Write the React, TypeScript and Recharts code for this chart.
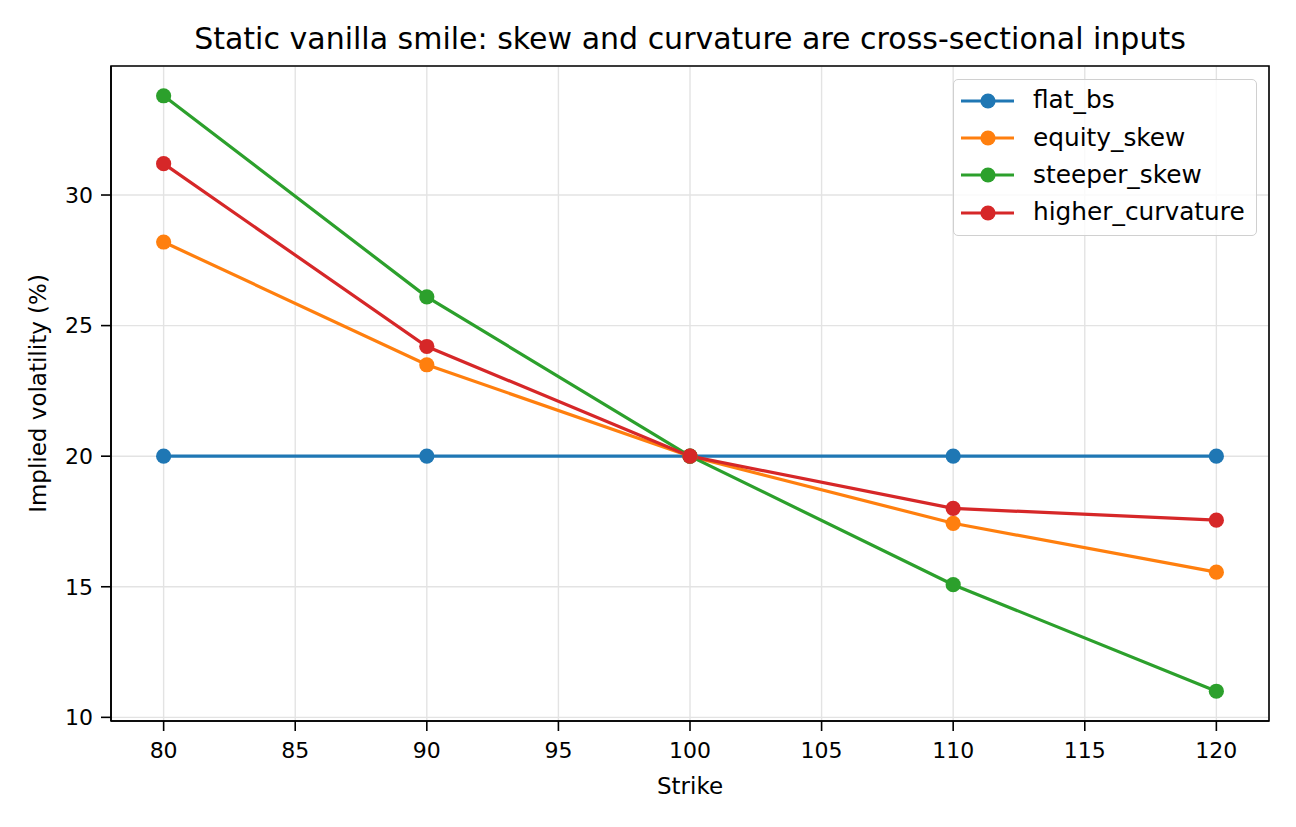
import { LineChart, Line, XAxis, YAxis, CartesianGrid, ReferenceArea, Label } from "recharts"

const strikes = [80, 90, 100, 110, 120]
const flatBs = [20, 20, 20, 20, 20]
const equitySkew = [28.2, 23.5, 20, 17.43, 15.56]
const steeperSkew = [33.8, 26.1, 20, 15.08, 11.0]
const higherCurvature = [31.2, 24.2, 20, 18.0, 17.55]

const xTicks = [80, 85, 90, 95, 100, 105, 110, 115, 120]
const yTicks = [10, 15, 20, 25, 30]

const series = [
  { key: "flat_bs", values: flatBs, color: "#1f77b4" },
  { key: "equity_skew", values: equitySkew, color: "#ff7f0e" },
  { key: "steeper_skew", values: steeperSkew, color: "#2ca02c" },
  { key: "higher_curvature", values: higherCurvature, color: "#d62728" },
]

const data = strikes.map((k, i) => {
  const row: Record<string, number> = { strike: k }
  series.forEach((s) => {
    row[s.key] = s.values[i]
  })
  return row
})

const FONT = "'DejaVu Sans', sans-serif"
const X_DOMAIN: [number, number] = [78, 122]
const Y_DOMAIN: [number, number] = [9.86, 34.94]

// legend box in the upper right corner of the axes
function SmileLegend() {
  return (
    <div
      style={{
        position: "absolute",
        left: 953,
        top: 79,
        width: 304,
        height: 157,
        boxSizing: "border-box",
        border: "1.5px solid #d0d0d0",
        borderRadius: 5,
        background: "rgba(255,255,255,0.8)",
        paddingTop: 2,
        fontFamily: FONT,
        fontSize: 24.8,
      }}
    >
      {series.map((s) => (
        <div key={s.key} style={{ display: "flex", alignItems: "center", height: 37.3 }}>
          <svg width={79} height={20} style={{ flexShrink: 0 }}>
            <line x1={7} y1={10} x2={60} y2={10} stroke={s.color} strokeWidth={3.2} />
            <circle cx={34} cy={10} r={7.6} fill={s.color} />
          </svg>
          <span style={{ color: "#000", lineHeight: 1 }}>{s.key}</span>
        </div>
      ))}
    </div>
  )
}

export default function App() {
  return (
    <div style={{ position: "absolute", left: 0, top: 0, width: 1296, height: 827, background: "#fff" }}>
      <div
        style={{
          position: "absolute",
          left: 0,
          width: 1380,
          top: 21,
          textAlign: "center",
          fontFamily: FONT,
          fontSize: 30,
          color: "#000",
          whiteSpace: "nowrap",
        }}
      >
        Static vanilla smile: skew and curvature are cross-sectional inputs
      </div>
      <LineChart
        width={1296}
        height={827}
        data={data}
        margin={{ top: 66, right: 27, left: 11, bottom: 26 }}
        style={{ fontFamily: FONT }}
      >
        <CartesianGrid stroke="#e3e3e3" strokeWidth={1.4} />
        <XAxis
          dataKey="strike"
          type="number"
          domain={X_DOMAIN}
          ticks={xTicks}
          allowDataOverflow
          height={80}
          tickSize={10}
          tickMargin={11}
          stroke="#000"
          strokeWidth={1.6}
          tick={{ fill: "#000", fontSize: 22, fontFamily: FONT }}
        >
          <Label
            content={({ viewBox }: any) => (
              <text
                x={viewBox.x + viewBox.width / 2}
                y={794}
                textAnchor="middle"
                fontSize={23}
                fontFamily={FONT}
                fill="#000"
              >
                Strike
              </text>
            )}
          />
        </XAxis>
        <YAxis
          type="number"
          domain={Y_DOMAIN}
          ticks={yTicks}
          allowDataOverflow
          width={100}
          tickSize={10}
          tickMargin={8}
          stroke="#000"
          strokeWidth={1.6}
          tick={{ fill: "#000", fontSize: 22, fontFamily: FONT }}
        >
          <Label
            content={({ viewBox }: any) => {
              const cx = 46
              const cy = viewBox.y + viewBox.height / 2
              return (
                <text
                  x={cx}
                  y={cy}
                  transform={`rotate(-90, ${cx}, ${cy})`}
                  textAnchor="middle"
                  fontSize={23}
                  fontFamily={FONT}
                  fill="#000"
                >
                  Implied volatility (%)
                </text>
              )
            }}
          />
        </YAxis>
        {series.map((s) => (
          <Line
            key={s.key}
            dataKey={s.key}
            stroke={s.color}
            strokeWidth={3.2}
            dot={{ r: 7.6, fill: s.color, stroke: "none" }}
            activeDot={false}
            isAnimationActive={false}
          />
        ))}
        <ReferenceArea
          x1={X_DOMAIN[0]}
          x2={X_DOMAIN[1]}
          y1={Y_DOMAIN[0]}
          y2={Y_DOMAIN[1]}
          fill="none"
          fillOpacity={0}
          stroke="#000"
          strokeWidth={1.6}
        />
      </LineChart>
      <SmileLegend />
    </div>
  )
}
